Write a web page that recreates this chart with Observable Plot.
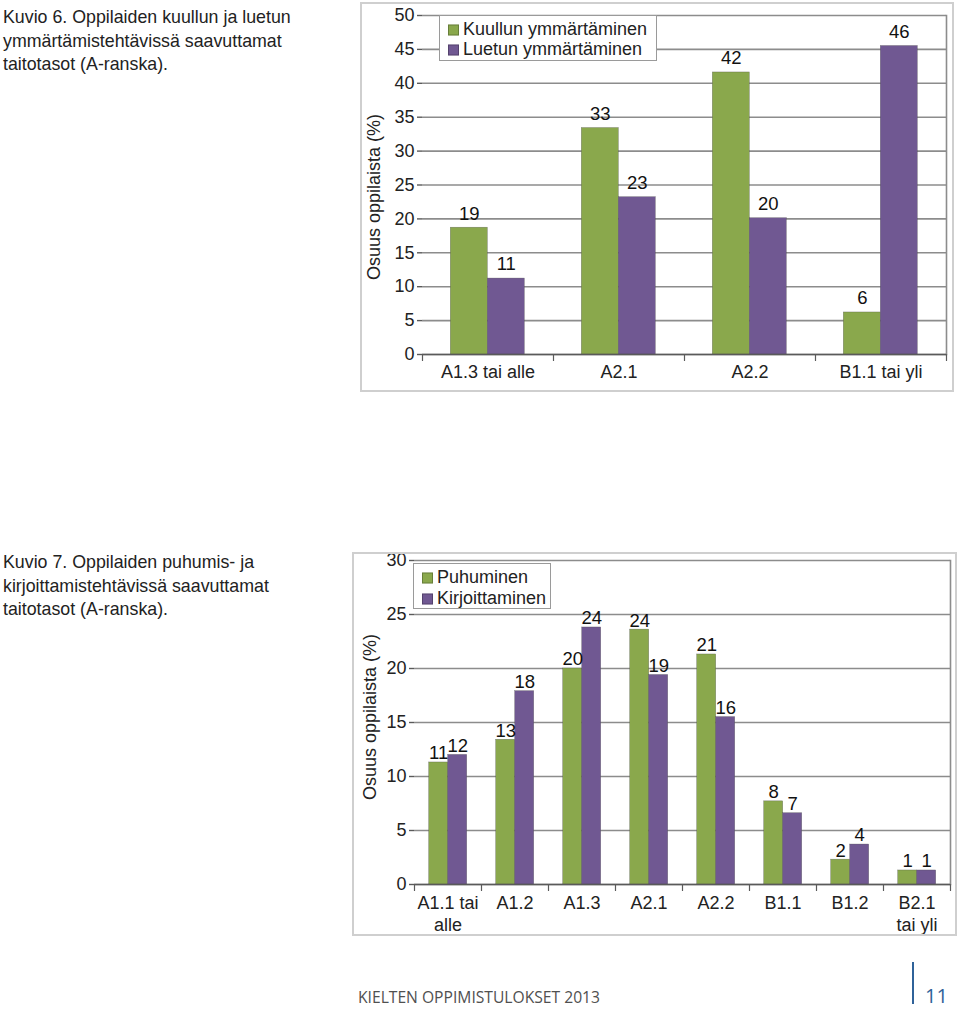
<!DOCTYPE html>
<html><head><meta charset="utf-8">
<script src="https://cdn.jsdelivr.net/npm/d3@7"></script>
<script src="https://cdn.jsdelivr.net/npm/@observablehq/plot@0.6"></script>
<style>
body{margin:0;background:#fff;width:960px;height:1009px;position:relative;overflow:hidden;font-family:"Liberation Sans",Arial,sans-serif;color:#222;}
.caption{position:absolute;left:3px;font-size:17.8px;line-height:23.5px;color:#222;white-space:nowrap}
.wrap{position:absolute}
.wrap svg{max-width:none;display:block}
.border{position:absolute;border:2px solid #cfcfcf;box-sizing:border-box;pointer-events:none}
.legend{position:absolute;background:#fff;border:1px solid #9a9a9a;box-sizing:border-box;font-size:18px;color:#222}
.legend .item{position:absolute;white-space:nowrap;transform:translateY(-50%)}
.legend .sw{display:inline-block;vertical-align:middle;margin-right:4px;border:0.5px solid rgba(0,0,0,0.25);box-sizing:border-box}
.ytitle{position:absolute;font-size:18px;color:#222;white-space:nowrap;transform:translate(-50%,-50%) rotate(-90deg)}
.footer{position:absolute;font-family:"Open Sans",sans-serif;color:#505050;white-space:nowrap;transform-origin:0 50%}
.pnum{position:absolute;font-family:"Open Sans",sans-serif;color:#2f6299;white-space:nowrap;font-size:20px;line-height:24px}
</style></head>
<body>
<script>
// ---------- Data: Kuvio 6 ----------
const cats1 = ["A1.3 tai alle", "A2.1", "A2.2", "B1.1 tai yli"];
const series1 = ["Kuullun ymmärtäminen", "Luetun ymmärtäminen"];
const kuullun = [18.7, 33.4, 41.6, 6.2];
const luetun = [11.2, 23.2, 20.1, 45.5];
const kuullunLabels = ["19", "33", "42", "6"];
const luetunLabels = ["11", "23", "20", "46"];
const yTicks1 = [0, 5, 10, 15, 20, 25, 30, 35, 40, 45, 50];

// ---------- Data: Kuvio 7 ----------
const cats2 = ["A1.1 tai\nalle", "A1.2", "A1.3", "A2.1", "A2.2", "B1.1", "B1.2", "B2.1\ntai yli"];
const series2 = ["Puhuminen", "Kirjoittaminen"];
const puhuminen = [11.3, 13.4, 20.0, 23.6, 21.3, 7.7, 2.3, 1.3];
const kirjoittaminen = [12.0, 17.9, 23.8, 19.4, 15.5, 6.6, 3.7, 1.3];
const puhuminenLabels = ["11", "13", "20", "24", "21", "8", "2", "1"];
const kirjoittaminenLabels = ["12", "18", "24", "19", "16", "7", "4", "1"];
const yTicks2 = [0, 5, 10, 15, 20, 25, 30];

const captions = [
  "Kuvio 6. Oppilaiden kuullun ja luetun\nymmärtämistehtävissä saavuttamat\ntaitotasot (A-ranska).",
  "Kuvio 7. Oppilaiden puhumis- ja\nkirjoittamistehtävissä saavuttamat\ntaitotasot (A-ranska)."
];
const yTitle = "Osuus oppilaista (%)";
const footerText = "KIELTEN OPPIMISTULOKSET 2013";
const pageNumber = "11";

const GREEN = "#8aa84c", PURPLE = "#705892";
const GRID = "#8c8c8c", AXIS = "#5a5a5a";
const FONT = "'Liberation Sans', Arial, sans-serif";
const FS = 18;

function rowsOf(cats, series, a, b, la, lb) {
  return cats.flatMap((c, i) => [
    {cat: c, series: series[0], value: a[i], label: la[i]},
    {cat: c, series: series[1], value: b[i], label: lb[i]}
  ]);
}

const tickShape = {draw(ctx, l) { ctx.moveTo(0, 0); ctx.lineTo(0, -l); }};

function makeChart(cfg) {
  const rows = rowsOf(cfg.cats, cfg.series, cfg.a, cfg.b, cfg.la, cfg.lb);
  return Plot.plot({
    width: cfg.width, height: cfg.height,
    marginLeft: cfg.ml, marginRight: cfg.mr, marginTop: cfg.mt, marginBottom: cfg.mb,
    style: {fontFamily: FONT, fontSize: FS + "px", color: "#222", background: "transparent", overflow: "visible"},
    fx: {domain: cfg.cats, padding: 0, label: null, axis: null},
    x: {domain: cfg.series, paddingInner: 0, paddingOuter: cfg.po, axis: null},
    y: {domain: cfg.ydomain, axis: null},
    color: {domain: cfg.series, range: [GREEN, PURPLE]},
    marks: [
      Plot.gridY(cfg.ticks, {stroke: GRID, strokeOpacity: 1, strokeWidth: 1.6}),
      Plot.frame({anchor: "right", facetAnchor: "right", stroke: GRID, strokeWidth: 1.6}),
      Plot.barY(rows, {fx: "cat", x: "series", y: "value", fill: "series", stroke: "#4a4a4a", strokeWidth: 0.5, strokeOpacity: 0.6}),
      Plot.text(rows, {fx: "cat", x: "series", y: "value", text: "label", dy: cfg.labelDy, fontSize: FS + 0.5, fill: "#111"}),
      Plot.ruleY([0], {stroke: AXIS, strokeWidth: 1.4}),
      Plot.axisY(cfg.ticks, {anchor: "left", tickSize: 5, tickPadding: 3, line: true, stroke: AXIS, strokeWidth: 1.4, fill: "#222", fontSize: FS, label: null}),
      Plot.vector([0], {frameAnchor: "bottom-left", length: 6, rotate: 180, anchor: "start", shape: tickShape, stroke: AXIS, strokeWidth: 1.2}),
      Plot.vector([0], {frameAnchor: "bottom-right", facetAnchor: "right", length: 6, rotate: 180, anchor: "start", shape: tickShape, stroke: AXIS, strokeWidth: 1.2}),
      Plot.axisFx({anchor: "bottom", tickSize: 0, tickPadding: cfg.fxPad, fontSize: FS, fill: "#222", label: null, lineHeight: 1.17})
    ]
  });
}

function place(el, left, top, w, h) {
  const d = document.createElement("div");
  d.className = "wrap";
  Object.assign(d.style, {left: left + "px", top: top + "px", width: w + "px", height: h + "px"});
  d.appendChild(el);
  document.body.appendChild(d);
  const b = document.createElement("div");
  b.className = "border";
  Object.assign(b.style, {left: left + "px", top: top + "px", width: w + "px", height: h + "px"});
  document.body.appendChild(b);
}

function legend(left, top, w, h, series, rowYs) {
  const lg = document.createElement("div");
  lg.className = "legend";
  Object.assign(lg.style, {left: left + "px", top: top + "px", width: w + "px", height: h + "px"});
  series.forEach((s, i) => {
    const it = document.createElement("div");
    it.className = "item";
    it.style.left = "8px";
    it.style.top = rowYs[i] + "px";
    const sw = document.createElement("span");
    sw.className = "sw";
    sw.style.width = "11px"; sw.style.height = "11px";
    sw.style.background = i === 0 ? GREEN : PURPLE;
    it.appendChild(sw);
    it.appendChild(document.createTextNode(s));
    lg.appendChild(it);
  });
  document.body.appendChild(lg);
}

function text(cls, str, left, top) {
  const d = document.createElement("div");
  d.className = cls;
  d.style.left = left + "px"; d.style.top = top + "px";
  str.split("\n").forEach((line, i) => {
    if (i) d.appendChild(document.createElement("br"));
    d.appendChild(document.createTextNode(line));
  });
  document.body.appendChild(d);
  return d;
}

// captions
text("caption", captions[0], 3, 6);
text("caption", captions[1], 3, 551);

// chart 1
place(makeChart({
  cats: cats1, series: series1, a: kuullun, b: luetun, la: kuullunLabels, lb: luetunLabels,
  width: 594, height: 390, ml: 61.7, mr: 7.3, mt: 13, mb: 38, po: 0.74,
  ydomain: [0, 50], ticks: yTicks1, labelDy: -14, fxPad: 9
}), 360, 2, 594, 390);
legend(439, 15, 218, 46, series1, [13, 33]);
text("ytitle", yTitle, 374, 197);

// chart 2
place(makeChart({
  cats: cats2, series: series2, a: puhuminen, b: kirjoittaminen, la: puhuminenLabels, lb: kirjoittaminenLabels,
  width: 605, height: 384, ml: 61.3, mr: 7, mt: 8, mb: 52, po: 0.757,
  ydomain: [0, 30], ticks: yTicks2, labelDy: -9, fxPad: 10
}), 352, 552, 605, 384);
legend(413, 563, 138, 46, series2, [13, 34]);
text("ytitle", yTitle, 370, 717);

// footer
const f = text("footer", footerText, 358, 986);
f.style.fontSize = "16px";
const fw = f.getBoundingClientRect().width;
f.style.transform = "scaleX(" + (242 / fw) + ")";
const bar = document.createElement("div");
Object.assign(bar.style, {position: "absolute", left: "912px", top: "962px", width: "2px", height: "42px", background: "#2f6299"});
document.body.appendChild(bar);
text("pnum", pageNumber, 925, 984);
</script>
</body></html>
